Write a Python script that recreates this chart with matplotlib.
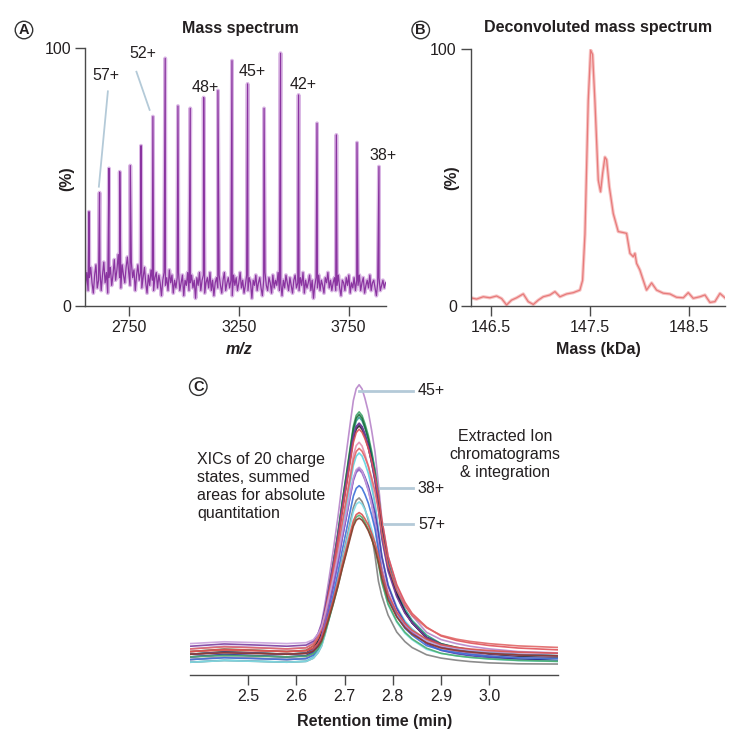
import numpy as np
import matplotlib.pyplot as plt

plt.rcParams['font.family'] = ['Liberation Sans', 'DejaVu Sans']
plt.rcParams['font.size'] = 11.5
TXT = '#231f20'
AX = '#4a4a4a'
LEAD = '#b4cad8'

# ---- panel A: charge-state envelope (m/z, % intensity) ----
peak_mz = [2568, 2616, 2659, 2708, 2756, 2805, 2859, 2915, 2973, 3029, 3090,
           3155, 3219, 3290, 3365, 3440, 3522, 3606, 3694, 3788, 3888]
peak_int = [36.6, 44.0, 53.4, 52.1, 54.5, 62.2, 73.5, 96.1, 77.6, 76.7, 80.9,
            83.6, 95.2, 86.2, 76.7, 98.1, 81.9, 70.9, 66.4, 63.4, 54.1]
baseline_int = [8, 13, 6, 11, 15, 9, 5, 12, 16, 7,
                10, 14, 6, 12, 17, 9, 13, 5, 11, 15,
                8, 12, 18, 10, 14, 20, 11, 7, 16, 12,
                9, 15, 19, 13, 8, 17, 11, 14, 6, 12,
                16, 10, 13, 7, 11, 15, 9, 5, 12, 8,
                14, 10, 6, 11, 13, 7, 12, 9, 4, 10,
                13, 8, 11, 6, 14, 9, 12, 5, 10, 7,
                11, 13, 6, 9, 12, 4, 10, 8, 13, 6,
                9, 12, 7, 10, 3, 11, 8, 13, 6, 10,
                12, 5, 9, 11, 7, 13, 6, 10, 4, 9,
                11, 7, 12, 8, 5, 10, 13, 6, 9, 11,
                7, 10, 4, 12, 8, 11, 6, 9, 13, 7,
                10, 5, 8, 12, 6, 11, 9, 3, 10, 8,
                12, 6, 9, 11, 7, 4, 10, 13, 8, 6,
                11, 9, 5, 12, 7, 10, 8, 13, 6, 9,
                4, 10, 7, 12, 9, 6, 11, 8, 5, 10,
                12, 7, 9, 6, 11, 8, 13, 5, 10, 7,
                9, 12, 6, 10, 3, 8, 11, 7, 12, 6,
                10, 8, 5, 11, 9, 13, 7, 10, 6, 9,
                11, 6, 8, 12, 7, 4, 10, 9, 6, 11,
                8, 12, 5, 9, 7, 11, 6, 10, 8, 12,
                6, 9, 11, 5, 8, 10, 7, 12, 6, 9,
                10, 7, 4, 9, 11, 6, 8, 10, 7, 9]
a_labels = ['57+', '52+', '48+', '45+', '42+', '38+']
a_label_x = [2647, 2811, 3098, 3310, 3542, 3906]
a_label_y = [89.6, 98.1, 84.7, 90.9, 86.0, 58.3]

# ---- panel B: deconvoluted spectrum (kDa, %) ----
mass_kda = [146.299, 146.359, 146.426, 146.493, 146.560, 146.611, 146.661, 146.711,
            146.762, 146.829, 146.879, 146.930, 146.980, 147.030, 147.097, 147.148,
            147.198, 147.265, 147.332, 147.399, 147.426, 147.450, 147.483, 147.507,
            147.527, 147.550, 147.584, 147.607, 147.628, 147.651, 147.668, 147.695,
            147.735, 147.785, 147.836, 147.869, 147.903, 147.936, 147.953, 147.970,
            148.003, 148.037, 148.070, 148.121, 148.171, 148.238, 148.305, 148.372,
            148.440, 148.490, 148.540, 148.607, 148.658, 148.708, 148.758, 148.809,
            148.859]
mass_int = [3.2, 2.7, 3.6, 3.2, 3.9, 2.9, 0.4, 2.3, 3.2, 4.7, 1.7, 0.6, 2.3,
            3.6, 4.3, 5.6, 3.6, 4.7, 5.2, 6.2, 10.0, 28.0, 80.0, 99.7, 98.0, 80.0,
            49.0, 44.5, 51.7, 58.0, 57.0, 46.5, 36.0, 29.0, 28.6, 28.3, 20.5, 19.2,
            20.5, 16.6, 14.0, 10.0, 6.2, 9.0, 6.2, 5.0, 4.7, 3.4, 3.2, 5.2, 3.0,
            3.6, 4.3, 1.4, 1.7, 4.9, 3.2]

# ---- panel C: extracted ion chromatograms ----
rt = [2.38, 2.45, 2.52, 2.58, 2.62, 2.635, 2.645, 2.652, 2.659, 2.666, 2.676,
      2.686, 2.695, 2.704, 2.712, 2.718, 2.724, 2.730, 2.736, 2.742, 2.749,
      2.756, 2.763, 2.770, 2.777, 2.790, 2.808, 2.825, 2.840, 2.870, 2.900,
      2.932, 2.960, 3.000, 3.060, 3.142]
profile = [0.0, 0.01, 0.005, 0.0, 0.005, 0.025, 0.06, 0.10, 0.17, 0.25, 0.37,
           0.50, 0.63, 0.75, 0.86, 0.94, 0.985, 1.00, 0.985, 0.95, 0.90,
           0.83, 0.75, 0.63, 0.50, 0.36, 0.25, 0.18, 0.14, 0.08, 0.055,
           0.04, 0.03, 0.02, 0.01, 0.005]
xic_height = [100, 92.2, 91.0, 89.8, 88.5, 86.6, 85.3, 83.5, 81.6, 77.8,
              75.3, 71.8, 69.7, 67.8, 65.3, 62.1, 60.2, 54.0, 52.6, 51.5]
xic_tail = [1.0, 1.05, 1.08, 1.0, 1.08, 1.05, 1.0, 1.12, 0.95, 1.0,
            1.1, 1.05, 0.95, 0.9, 1.0, 0.85, 1.0, 1.05, 1.1, 1.08]
xic_left = [3, 1, -1, 2, 0, 1, 4, 2, -1, -2, 3, 0, 1, 5, -1, -2, -2, 0, 2, 1]
xic_right = [1, -2, -1, 0, -2, -1, 0, 2, -1, 0, 3, -2, 0, 1, -1, -3, -2, -2, 1, 0]
xic_colors = ['#b784c9', '#3fa36b', '#2e9e8f', '#1f6e3a', '#1a237e', '#222222',
              '#7b3fa0', '#e0535a', '#e58fb0', '#5fd3e0', '#e06666', '#4b3ab0',
              '#8e5cc4', '#c9a0dc', '#3a6fd8', '#808080', '#7fdde8', '#4cae6c',
              '#d9534f', '#8b3a2a']
c_labels = ['45+', '38+', '57+']
c_label_y = [100, 63.4, 49.9]
c_lead_start = [2.730, 2.773, 2.781]
c_ticks = [2.5, 2.6, 2.7, 2.8, 2.9, 3.0]


def style_axes(ax):
    for s in ['top', 'right']:
        ax.spines[s].set_visible(False)
    for s in ['left', 'bottom']:
        ax.spines[s].set_color(AX)
        ax.spines[s].set_linewidth(1.0)
    ax.tick_params(colors=AX, labelcolor=TXT, length=7, width=1.0, pad=3,
                   labelsize=11.5)


fig = plt.figure(figsize=(7.33, 7.34), dpi=100)

# panel A
axA = fig.add_axes([0.1160, 0.5831, 0.4106, 0.3511])
grid = np.linspace(2552, 3918, len(baseline_int))
mz_all = np.concatenate([grid, peak_mz])
int_all = np.concatenate([baseline_int, peak_int])
order = np.argsort(mz_all)
axA.plot(mz_all[order], int_all[order], color='#dab7e4', lw=2.8)
axA.plot(mz_all[order], int_all[order], color='#8a34a0', lw=0.9)
axA.set_xlim(2550, 3920)
axA.set_ylim(0, 100)
axA.set_xticks([2750, 3250, 3750])
axA.set_yticks([0, 100])
style_axes(axA)
for lab, x, y in zip(a_labels, a_label_x, a_label_y):
    axA.text(x, y, lab, ha='center', va='center', color=TXT, fontsize=11.5)
axA.plot([2654, 2613], [83.3, 46.3], color=LEAD, lw=1.3)
axA.plot([2784, 2844], [90.9, 76.1], color=LEAD, lw=1.3)

# panel B
axB = fig.add_axes([0.6422, 0.5831, 0.3469, 0.3497])
axB.plot(mass_kda, mass_int, color='#f7c4c4', lw=2.4)
axB.plot(mass_kda, mass_int, color='#e77a7a', lw=0.9)
axB.set_xlim(146.3, 148.86)
axB.set_ylim(0, 100)
axB.set_xticks([146.5, 147.5, 148.5])
axB.set_yticks([0, 100])
style_axes(axB)

# panel C
axC = fig.add_axes([0.2592, 0.0804, 0.5016, 0.4019])
rt_arr = np.array(rt)
apex = 2.730
for h, w, l, r, c in zip(xic_height, xic_tail, xic_left, xic_right, xic_colors):
    t_src = np.where(rt_arr > apex, apex + (rt_arr - apex) / w, rt_arr)
    y = np.interp(t_src, rt, profile) * h + np.interp(rt_arr, [2.62, 2.90], [l, r])
    axC.plot(rt_arr, y, color=c, lw=1.2, alpha=0.9)
for lab, y, x0 in zip(c_labels, c_label_y, c_lead_start):
    axC.plot([x0, 2.8415], [y, y], color=LEAD, lw=2.0)
    axC.text(2.852, y, lab, ha='left', va='center', color=TXT, fontsize=11.5)
axC.set_xlim(2.379, 3.142)
axC.set_ylim(-6.8, 104)
axC.set_xticks(c_ticks)
axC.set_xticklabels(['%.1f' % t for t in c_ticks])
axC.set_yticks([])
style_axes(axC)
axC.spines['left'].set_visible(False)

# titles, axis labels, annotations
fig.text(0.3274, 0.9614, 'Mass spectrum', ha='center', va='center',
         fontweight='bold', color=TXT, fontsize=11.5)
fig.text(0.8162, 0.9619, 'Deconvoluted mass spectrum', ha='center', va='center',
         fontweight='bold', color=TXT, fontsize=11.5)
fig.text(0.091, 0.756, '(%)', rotation=90, ha='center', va='center',
         fontweight='bold', color=TXT, fontsize=11.5)
fig.text(0.6162, 0.7575, '(%)', rotation=90, ha='center', va='center',
         fontweight='bold', color=TXT, fontsize=11.5)
fig.text(0.326, 0.5245, 'm/z', ha='center', va='center', fontweight='bold',
         fontstyle='italic', color=TXT, fontsize=11.5)
fig.text(0.8158, 0.5245, 'Mass (kDa)', ha='center', va='center',
         fontweight='bold', color=TXT, fontsize=11.5)
fig.text(0.5106, 0.0168, 'Retention time (min)', ha='center', va='center',
         fontweight='bold', color=TXT, fontsize=11.5)
fig.text(0.2692, 0.3842, 'XICs of 20 charge\nstates, summed\nareas for absolute\nquantitation',
         ha='left', va='top', color=TXT, fontsize=11.5, linespacing=1.25)
fig.text(0.689, 0.4155, 'Extracted Ion\nchromatograms\n& integration',
         ha='center', va='top', color=TXT, fontsize=11.5, linespacing=1.25)

for letter, x, y in [('A', 0.0327, 0.9591), ('B', 0.574, 0.9591), ('C', 0.2705, 0.4732)]:
    fig.text(x, y, letter, ha='center', va='center', fontweight='bold', color=TXT,
             fontsize=10.5,
             bbox=dict(boxstyle='circle,pad=0.12', fc='white', ec='#333333', lw=1.0))

fig.savefig('out.png', dpi=100)
